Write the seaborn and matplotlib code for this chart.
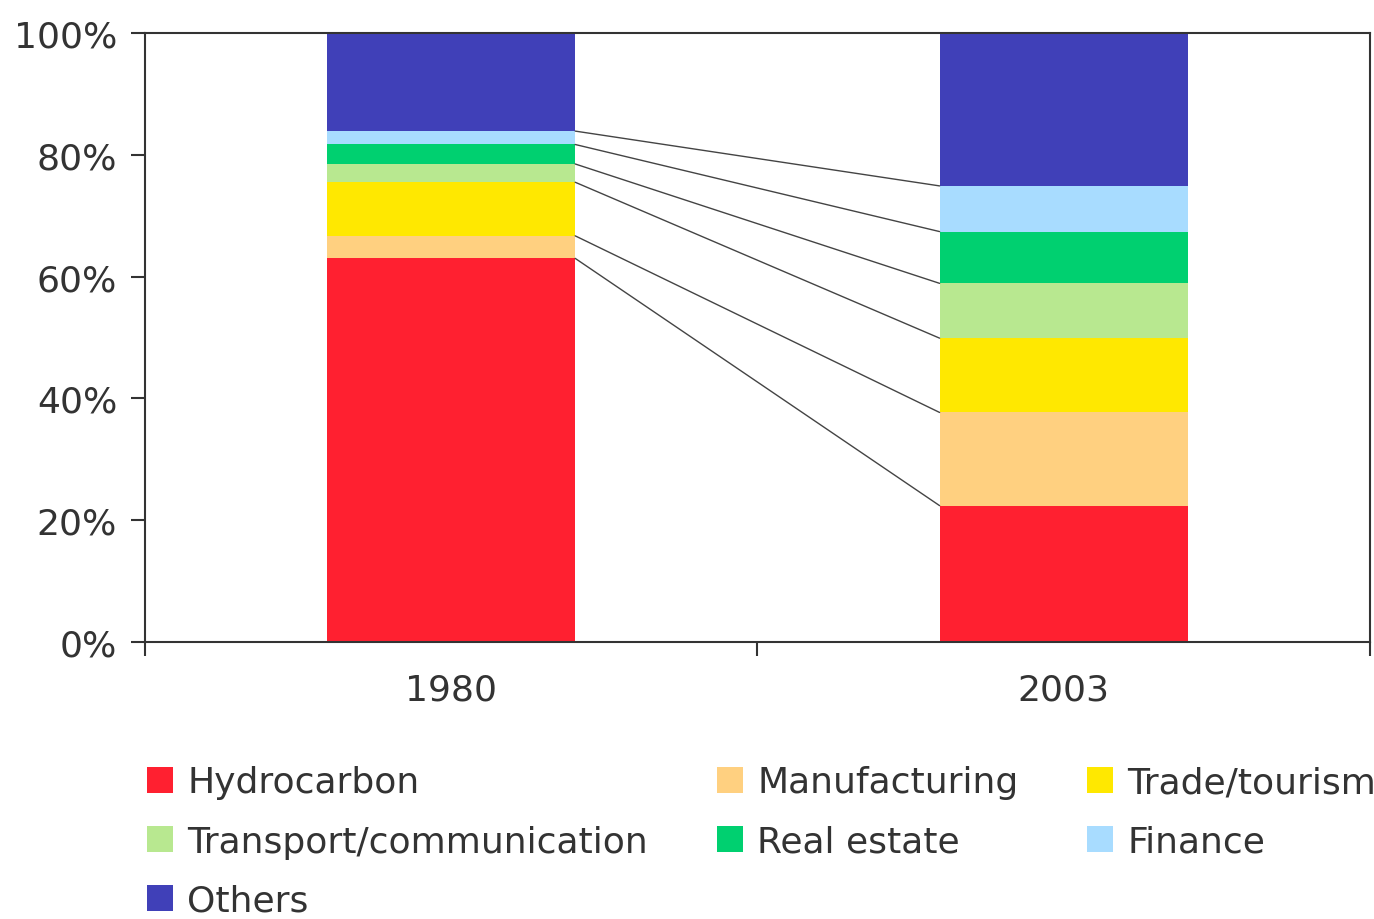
import numpy as np
import pandas as pd
import matplotlib
matplotlib.use("Agg")
import matplotlib.pyplot as plt
from matplotlib.patches import Patch
from matplotlib.ticker import FixedLocator
import seaborn as sns

# GDP composition by sector (% of total)
years = ["1980", "2003"]
sectors = ["Hydrocarbon", "Manufacturing", "Trade/tourism",
           "Transport/communication", "Real estate", "Finance", "Others"]
share_1980 = [63.0, 3.7, 8.8, 3.0, 3.2, 2.2, 16.1]
share_2003 = [22.4, 15.3, 12.2, 9.0, 8.5, 7.5, 25.1]
y_ticks = [0, 20, 40, 60, 80, 100]
y_tick_labels = ["0%", "20%", "40%", "60%", "80%", "100%"]

colors = ["#FF2030", "#FFD080", "#FFE800", "#B8E890",
          "#00D070", "#A8DCFF", "#4040B8"]

sns.set_theme(style="white")
plt.rcParams["font.family"] = ["DejaVu Sans"]
text_color = "#333333"

fig = plt.figure(figsize=(13.74, 9.2), dpi=100)
ax = fig.add_axes([0.1055, 0.301, 0.8915, 0.662])

shares = np.array([share_1980, share_2003])  # rows: years, cols: sectors
cum = np.cumsum(shares, axis=1)
bar_w = 0.405

# stacked bars: draw cumulative totals from the top layer down
for i in reversed(range(len(sectors))):
    df = pd.DataFrame({"year": years, "value": cum[:, i]})
    sns.barplot(data=df, x="year", y="value", color=colors[i], saturation=1,
                width=bar_w, edgecolor="none", linewidth=0, ax=ax, zorder=2)

# connectors between matching segment boundaries
for i in range(len(sectors) - 1):
    ax.plot([0 + bar_w / 2, 1 - bar_w / 2], [cum[0, i], cum[1, i]],
            color="#444444", linewidth=1.0, zorder=3)

ax.set_xlim(-0.5, 1.5)
ax.set_ylim(0, 100)
ax.set_xlabel("")
ax.set_ylabel("")
ax.set_yticks(y_ticks)
ax.set_yticklabels(y_tick_labels)
ax.xaxis.set_minor_locator(FixedLocator([-0.5, 0.5, 1.5]))
ax.tick_params(axis="x", which="major", length=0, pad=22,
               labelsize=26, labelcolor=text_color)
ax.tick_params(axis="x", which="minor", bottom=True, length=10,
               width=1.5, color="#333333", direction="out")
ax.tick_params(axis="y", left=True, length=10, width=1.5, color="#333333",
               direction="out", labelsize=26, labelcolor=text_color, pad=10)
for sp in ax.spines.values():
    sp.set_visible(True)
    sp.set_color("#333333")
    sp.set_linewidth(1.5)
ax.grid(False)

handles = [Patch(facecolor=c, edgecolor="none") for c in colors]
order = [0, 3, 6, 1, 4, 2, 5]
fig.legend([handles[k] for k in order], [sectors[k] for k in order],
           ncol=3, loc="upper left", bbox_to_anchor=(0.107, 0.167),
           frameon=False, fontsize=26, labelcolor=text_color,
           handlelength=0.72, handleheight=0.72, handletextpad=0.4,
           columnspacing=1.9, labelspacing=0.7, borderaxespad=0,
           borderpad=0)

fig.savefig("out.png", dpi=100, facecolor="white")
